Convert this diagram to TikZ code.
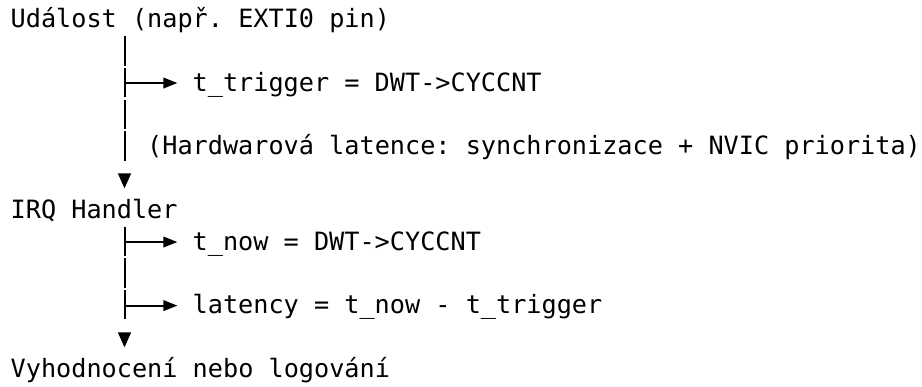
\documentclass[tikz,border=0pt]{standalone}
\usepackage{fontspec}
\setmonofont{DejaVu Sans Mono}
\usetikzlibrary{arrows.meta}
\begin{document}
\begin{tikzpicture}[x=1pt,y=-1pt,
  txt/.style={font=\ttfamily\fontsize{25.2}{30}\selectfont, anchor=base west, inner sep=0pt},
  trunk/.style={line width=2pt, dash pattern=on 29.3pt off 2.4pt},
  branch/.style={line width=2pt, -{Triangle[length=14pt,width=10.5pt]}, shorten >=15.1pt},
  downtip/.style={fill=black}]
\useasboundingbox (0,0) rectangle (922,386);
% text lines (character cell 15.17pt wide, line pitch 31.8pt)
\node[txt] (ev)   at (10.5,27.5)  {Událost (např. EXTI0 pin)};
\node[txt] (trig) at (192.5,91.1) {t\_trigger = DWT->CYCCNT};
\node[txt] (hw)   at (147.0,154.7) {(Hardwarová latence: synchronizace + NVIC priorita)};
\node[txt] (irq)  at (10.5,218.3) {IRQ Handler};
\node[txt] (now)  at (192.5,250.1) {t\_now = DWT->CYCCNT};
\node[txt] (lat)  at (192.5,313.7) {latency = t\_now - t\_trigger};
\node[txt] (out)  at (10.5,377.3) {Vyhodnocení nebo logování};
% trunk points
\coordinate (s1) at (124.5,36.3);
\coordinate (e1) at (124.5,160.7);
\coordinate (b1) at (124.5,83.0);
\coordinate (d1) at (124.5,173.3);
\coordinate (s2) at (124.5,226.7);
\coordinate (e2) at (124.5,319.6);
\coordinate (b2) at (124.5,242.0);
\coordinate (b3) at (124.5,305.6);
\coordinate (d2) at (124.5,332.3);
% vertical runs
\draw[trunk] (s1) -- (e1);
\draw[trunk] (s2) -- (e2);
% side branches
\draw[branch] (b1) -- (b1 -| trig.west);
\draw[branch] (b2) -- (b2 -| now.west);
\draw[branch] (b3) -- (b3 -| lat.west);
% downward triangles
\fill[downtip] (d1) ++(-6.7,0) -- ++(13.4,0) -- ++(-6.7,15) -- cycle;
\fill[downtip] (d2) ++(-6.7,0) -- ++(13.4,0) -- ++(-6.7,15) -- cycle;
\end{tikzpicture}
\end{document}
